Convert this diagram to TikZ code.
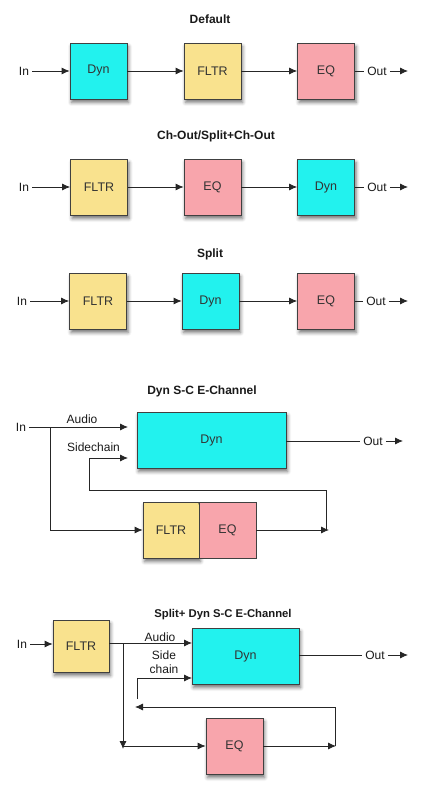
\documentclass[tikz,border=0pt]{standalone}
\usepackage{fontspec}
\setmainfont{Liberation Sans}
\usetikzlibrary{arrows.meta,shadows.blur}
\definecolor{cyanc}{HTML}{22F2EE}
\definecolor{yelc}{HTML}{F9E28E}
\definecolor{pinkc}{HTML}{F8A5AC}
\tikzset{
  blk/.style={draw=black!75, line width=0.7pt, inner sep=0pt, minimum width=57pt, minimum height=56pt,
    font=\fontsize{12.5}{14}\selectfont, text=black!80,
    blur shadow={shadow xshift=1.5pt, shadow yshift=-3.5pt, shadow blur radius=3.5pt, shadow opacity=55}},
  lbl/.style={inner sep=3pt, font=\fontsize{12}{14}\selectfont, text=black!90},
  ttl/.style={inner sep=0pt, font=\fontsize{12}{14}\selectfont\bfseries, text=black!90},
  arr/.style={line width=0.8pt, black!85, -{Latex[length=8pt,width=7pt]}},
  ln/.style={line width=0.8pt, black!85},
}
\begin{document}
\begin{tikzpicture}[x=1pt,y=-1pt]
\useasboundingbox (0,0) rectangle (427,799);
% ---------- Section 1: Default
\node[ttl] (t1) at (210,19) {Default};
\node[lbl] (in1) at (24,71) {In};
\node[blk, fill=cyanc] (a1) at (98.5,71) {Dyn};
\node[blk, fill=yelc] (b1) at (212.5,71) {FLTR};
\node[blk, fill=pinkc] (c1) at (326,71) {EQ};
\node[lbl] (o1) at (377,71) {Out};
\coordinate (x1) at (408,71);
\draw[arr] (in1) -- (a1);
\draw[arr] (a1) -- (b1);
\draw[arr] (b1) -- (c1);
\draw[ln] (c1) -- (o1);
\draw[arr] (o1) -- (x1);
% ---------- Section 2
\node[ttl] (t2) at (216,136) {Ch-Out/Split+Ch-Out};
\node[lbl] (in2) at (24,187) {In};
\node[blk, fill=yelc] (a2) at (99,187) {FLTR};
\node[blk, fill=pinkc] (b2) at (212.5,187) {EQ};
\node[blk, fill=cyanc] (c2) at (326,187) {Dyn};
\node[lbl] (o2) at (377,187) {Out};
\coordinate (x2) at (408,187);
\draw[arr] (in2) -- (a2);
\draw[arr] (a2) -- (b2);
\draw[arr] (b2) -- (c2);
\draw[ln] (c2) -- (o2);
\draw[arr] (o2) -- (x2);
% ---------- Section 3
\node[ttl] (t3) at (210,254) {Split};
\node[lbl] (in3) at (22,301) {In};
\node[blk, fill=yelc] (a3) at (98,301) {FLTR};
\node[blk, fill=cyanc] (b3) at (210.5,301) {Dyn};
\node[blk, fill=pinkc] (c3) at (326,301) {EQ};
\node[lbl] (o3) at (376,301) {Out};
\coordinate (x3) at (408,301);
\draw[arr] (in3) -- (a3);
\draw[arr] (a3) -- (b3);
\draw[arr] (b3) -- (c3);
\draw[ln] (c3) -- (o3);
\draw[arr] (o3) -- (x3);
% ---------- Section 4: Dyn S-C E-Channel
\node[ttl] (t4) at (202,391) {Dyn S-C E-Channel};
\node[lbl] (in4) at (21,427) {In};
\node[blk, fill=cyanc, minimum width=149pt] (d4) at (211.5,440) {Dyn};
\node[blk, fill=yelc, minimum width=56pt] (f4) at (171,530) {FLTR};
\node[blk, fill=pinkc, minimum width=57pt, blur shadow={shadow opacity=0}] (e4) at (227.5,530) {EQ};
\node[lbl] (au4) at (82,419) {Audio};
\node[lbl] (sc4) at (93.5,447) {Sidechain};
\node[lbl] (o4) at (373,441) {Out};
\coordinate (a4) at (128,427);
\coordinate (b4) at (50,427);
\coordinate (s4) at (128,458);
\coordinate (k4) at (89,490);
\coordinate (j4) at (329,530);
\coordinate (x4) at (403,441);
\draw[arr] (in4) -- (a4);
\draw[arr] (b4) |- (f4);
\draw[arr] (e4) -- (j4);
\draw[arr] ([xshift=-3pt]j4) |- (k4) |- (s4);
\draw[ln] (d4.east |- o4) -- (o4);
\draw[arr] (o4) -- (x4);
% ---------- Section 5: Split+ Dyn S-C E-Channel
\node[ttl, font=\fontsize{11.3}{13}\selectfont\bfseries] (t5) at (223,615) {Split+ Dyn S-C E-Channel};
\node[lbl] (in5) at (22,644) {In};
\node[blk, fill=yelc, minimum width=56pt, minimum height=52pt] (f5) at (81,646) {FLTR};
\node[blk, fill=cyanc, minimum width=107pt] (d5) at (245.5,656) {Dyn};
\node[blk, fill=pinkc] (e5) at (234.5,746) {EQ};
\node[lbl] (au5) at (160,637) {Audio};
\node[lbl, align=center, font=\fontsize{12}{14}\selectfont] (sc5) at (164,662) {Side\\chain};
\node[lbl] (o5) at (375,655) {Out};
\coordinate (a5) at (192,643);
\coordinate (b5) at (123,643);
\coordinate (p5) at (123,749);
\coordinate (q5) at (123,746);
\coordinate (j5) at (336,746);
\coordinate (r5) at (135,707);
\coordinate (t5a) at (137,699);
\coordinate (s5) at (192,678);
\coordinate (x5) at (408,655);
\draw[arr] (in5) -- (f5.west |- in5);
\draw[arr] (f5.east |- a5) -- (a5);
\draw[arr] (b5) -- (p5);
\draw[arr] (q5) -- (e5);
\draw[arr] (e5) -- (j5);
\draw[arr] ([xshift=-1pt]j5) |- (r5);
\draw[arr] (t5a) |- (s5);
\draw[ln] (d5.east |- o5) -- (o5);
\draw[arr] (o5) -- (x5);
\end{tikzpicture}
\end{document}
